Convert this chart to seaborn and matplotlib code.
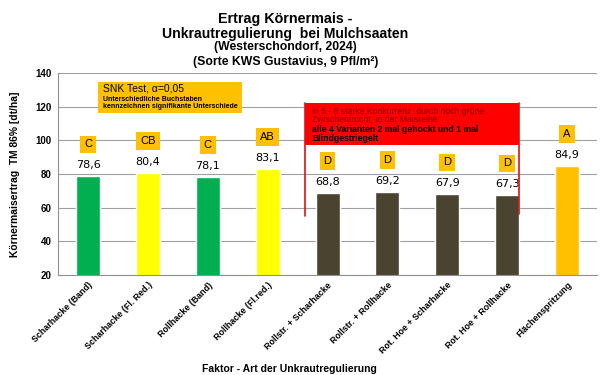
import matplotlib
matplotlib.use('Agg')
import matplotlib.pyplot as plt
import seaborn as sns
import pandas as pd
import numpy as np

varianten = ['Scharhacke (Band)', 'Scharhacke (Fl. Red.)', 'Rollhacke (Band)', 'Rollhacke (Fl.red.)',
             'Rollstr. + Scharhacke', 'Rollstr. + Rollhacke', 'Rot. Hoe + Scharhacke',
             'Rot. Hoe + Rollhacke', 'Flächenspritzung']
ertrag = [78.6, 80.4, 78.1, 83.1, 68.8, 69.2, 67.9, 67.3, 84.9]
buchstaben = ['C', 'CB', 'C', 'AB', 'D', 'D', 'D', 'D', 'A']
farben = ['#00B050', '#FFFF00', '#00B050', '#FFFF00', '#4A4330', '#4A4330', '#4A4330', '#4A4330', '#FFC000']

df = pd.DataFrame({'variante': varianten, 'ertrag': ertrag})

sns.set_style('white')
plt.rcParams['font.family'] = ['Liberation Sans', 'DejaVu Sans']
plt.rcParams['text.color'] = 'black'
plt.rcParams['axes.labelcolor'] = 'black'

fig = plt.figure(figsize=(6, 3.75), dpi=100)
ax = fig.add_axes([0.097, 0.267, 0.898, 0.538])

sns.barplot(data=df, x='variante', y='ertrag', hue='variante', palette=farben,
            legend=False, width=0.4, saturation=1, ax=ax)

ax.set_ylim(20, 140)
ax.set_xlim(-0.5, 8.5)
ax.set_yticks(np.arange(20, 141, 20))
ax.yaxis.grid(True, color='#a0a0a0', linewidth=0.8)
ax.set_axisbelow(True)
for s in ['top', 'right']:
    ax.spines[s].set_visible(False)
for s in ['left', 'bottom']:
    ax.spines[s].set_color('#909090')
    ax.spines[s].set_linewidth(0.8)
ax.tick_params(axis='y', length=3, color='#909090', labelcolor='black', labelsize=7, pad=2)
for t in ax.get_yticklabels():
    t.set_fontweight('bold')
ax.set_xticks(range(len(varianten)))
ax.set_xticklabels(varianten, rotation=45, ha='right', rotation_mode='anchor', fontsize=6.4, fontweight='bold')
ax.tick_params(axis='x', length=0, pad=4, labelcolor='black')
ax.set_xticks(np.arange(-0.5, 9, 1), minor=True)
ax.tick_params(axis='x', which='minor', length=3, color='#909090')

ax.set_ylabel('Körnermaisertrag  TM 86% [dt/ha]', fontsize=7.4, fontweight='bold', labelpad=11)
ax.set_xlabel('Faktor - Art der Unkrautregulierung', fontsize=7.5, fontweight='bold')
ax.xaxis.set_label_coords(0.43, -0.44)

for i, (v, b) in enumerate(zip(ertrag, buchstaben)):
    ax.text(i, v + 6.5, f'{v:.1f}'.replace('.', ','), ha='center', va='center', fontsize=8,
            family='DejaVu Sans')
    ax.text(i, v + 19, b, ha='center', va='center', fontsize=8,
            bbox=dict(boxstyle='square,pad=0.35', facecolor='#FFC000', edgecolor='none'))

# SNK-Hinweis
ax.add_patch(plt.Rectangle((0.17, 116.2), 2.4, 18.5, facecolor='#FFC000', edgecolor='none', zorder=3))
ax.text(0.25, 131, 'SNK Test, α=0,05', fontsize=7.5, va='center', zorder=4)
ax.text(0.25, 124.5, 'Unterschiedliche Buchstaben', fontsize=5, fontweight='bold', va='center', zorder=4)
ax.text(0.25, 120, 'kennzeichnen signifikante Unterschiede', fontsize=5, fontweight='bold', va='center', zorder=4)

# roter Hinweis
ax.add_patch(plt.Rectangle((3.62, 97.4), 3.58, 24.8, facecolor='#FF0000', edgecolor='none', zorder=3))
ax.plot([3.62, 3.62], [55.0, 122.2], color='#E01010', lw=1.2, zorder=3)
ax.plot([7.2, 7.2], [56.5, 122.2], color='#E01010', lw=1.2, zorder=3)
ax.text(3.74, 117.4, 'in 5 - 8 starke Konkurrenz  durch noch grüne', fontsize=6.2, color='#8a0000', va='center', zorder=4)
ax.text(3.74, 112.3, 'Zwischenfrucht  in der Maisreihe', fontsize=6.2, color='#8a0000', va='center', zorder=4)
ax.text(3.74, 106.7, 'alle 4 Varianten 2 mal gehockt und 1 mal', fontsize=6.2, fontweight='bold', va='center', zorder=4)
ax.text(3.74, 100.9, 'Blindgestriegelt', fontsize=6.2, fontweight='bold', va='center', zorder=4)

fig.text(0.476, 0.939, 'Ertrag Körnermais -', ha='center', va='baseline', fontsize=10.3, fontweight='bold')
fig.text(0.476, 0.899, 'Unkrautregulierung  bei Mulchsaaten', ha='center', va='baseline', fontsize=10.1, fontweight='bold')
fig.text(0.476, 0.867, '(Westerschondorf, 2024)', ha='center', va='baseline', fontsize=8.8, fontweight='bold')
fig.text(0.476, 0.827, '(Sorte KWS Gustavius, 9 Pfl/m²)', ha='center', va='baseline', fontsize=8.8, fontweight='bold')

fig.savefig('out.png', dpi=100)
